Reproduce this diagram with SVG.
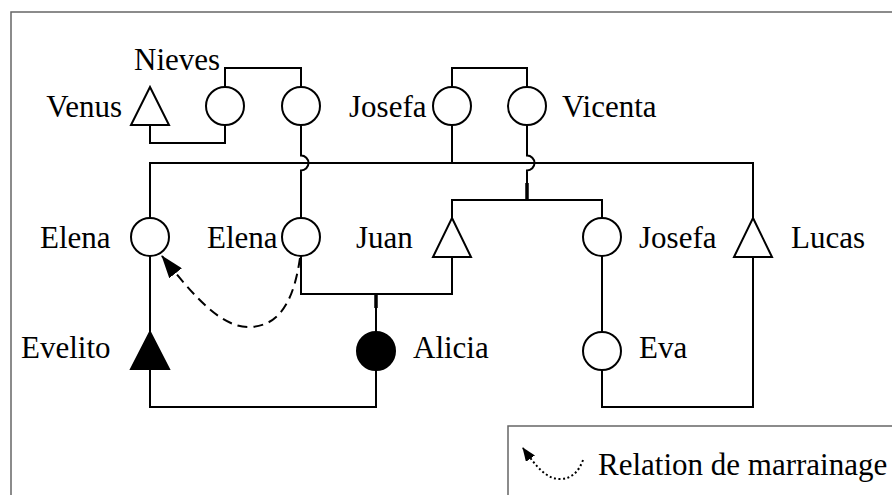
<svg xmlns="http://www.w3.org/2000/svg" width="892" height="495" viewBox="0 0 892 495">
<style>
.ln{fill:none;stroke:#000;stroke-width:2}
.th{fill:none;stroke:#000;stroke-width:3.5}
.fr{fill:none;stroke:#666;stroke-width:1.5}
.o{fill:#fff;stroke:#000;stroke-width:2}
.f{fill:#000;stroke:#000;stroke-width:2}
text{font-family:"Liberation Serif","Times New Roman",serif;font-size:31px;fill:#000}
</style>
<defs>
<marker id="ah" viewBox="0 0 14 11" refX="13" refY="5.5" markerWidth="14" markerHeight="11" markerUnits="userSpaceOnUse" orient="auto">
<path d="M0,0 L14,5.5 L0,11 Z" fill="#000"/>
</marker>
<marker id="ah2" viewBox="0 0 23 16" refX="22" refY="8" markerWidth="23" markerHeight="16" markerUnits="userSpaceOnUse" orient="auto">
<path d="M0,0 L23,8 L0,16 Z" fill="#000"/>
</marker>
</defs>
<path class="fr" d="M11,495 L11,12 L892,12"/>
<path class="fr" d="M508,495 L508,426 L892,426"/>
<g id="connectors">
<path class="ln" d="M150,125 L150,143 L225,143 L225,125"/>
<path class="ln" d="M225,87 L225,68 L301,68 L301,87"/>
<path class="ln" d="M452,87 L452,68 L527,68 L527,87"/>
<path class="ln" d="M150,218 L150,163 L753,163 L753,218"/>
<path class="ln" d="M301,125 L301,155.5 A7.5,7.5 0 0 1 301,170.5 L301,218"/>
<path class="ln" d="M452,125 L452,163"/>
<path class="ln" d="M527,125 L527,155.5 A7.5,7.5 0 0 1 527,170.5 L527,200"/>
<path class="th" d="M527,183 L527,200"/>
<path class="ln" d="M452,218 L452,200 L602,200 L602,218"/>
<path class="ln" d="M301,256 L301,294 L452,294 L452,257"/>
<path class="ln" d="M376,294 L376,332"/>
<path class="th" d="M376,294 L376,308"/>
<path class="ln" d="M150,256 L150,332"/>
<path class="ln" d="M150,369 L150,407 L376,407 L376,370"/>
<path class="ln" d="M602,256 L602,332"/>
<path class="ln" d="M602,370 L602,407 L753,407 L753,257"/>
<path class="ln" d="M300,258 C295,292 284,326 250,327 C222,328 195,298 162,256" stroke-dasharray="10,6" marker-end="url(#ah2)" stroke-width="1.8"/>
</g>
<g id="venus"><polygon class="o" points="150,87 169,125 131,125"/><text x="122" y="117" text-anchor="end">Venus</text></g>
<g id="nieves"><circle class="o" cx="225" cy="106" r="19"/><text x="134" y="70">Nieves</text></g>
<g id="mother-elena"><circle class="o" cx="301" cy="106" r="19"/></g>
<g id="josefa-top"><circle class="o" cx="452" cy="106" r="19"/><text x="349" y="117">Josefa</text></g>
<g id="vicenta"><circle class="o" cx="527" cy="106" r="19"/><text x="562" y="117">Vicenta</text></g>
<g id="elena1"><circle class="o" cx="150" cy="237" r="19"/><text x="40" y="248">Elena</text></g>
<g id="elena2"><circle class="o" cx="301" cy="237" r="19"/><text x="207" y="248">Elena</text></g>
<g id="juan"><polygon class="o" points="452,218 471,257 433,257"/><text x="356" y="248">Juan</text></g>
<g id="josefa2"><circle class="o" cx="602" cy="237" r="19"/><text x="639" y="248">Josefa</text></g>
<g id="lucas"><polygon class="o" points="753,218 772,257 734,257"/><text x="791" y="248">Lucas</text></g>
<g id="evelito"><polygon class="f" points="150,332 169,369 131,369"/><text x="21" y="358">Evelito</text></g>
<g id="alicia"><circle class="f" cx="376" cy="351" r="19"/><text x="413" y="358">Alicia</text></g>
<g id="eva"><circle class="o" cx="602" cy="351" r="19"/><text x="639" y="358">Eva</text></g>
<g id="legend">
<path d="M583,460 C579,471 572,479 560,479 C547,479 537,468 523,448" fill="none" stroke="#000" stroke-width="2" stroke-dasharray="2,2.5" marker-end="url(#ah)"/>
<text x="598" y="475">Relation de marrainage</text>
</g>
</svg>
